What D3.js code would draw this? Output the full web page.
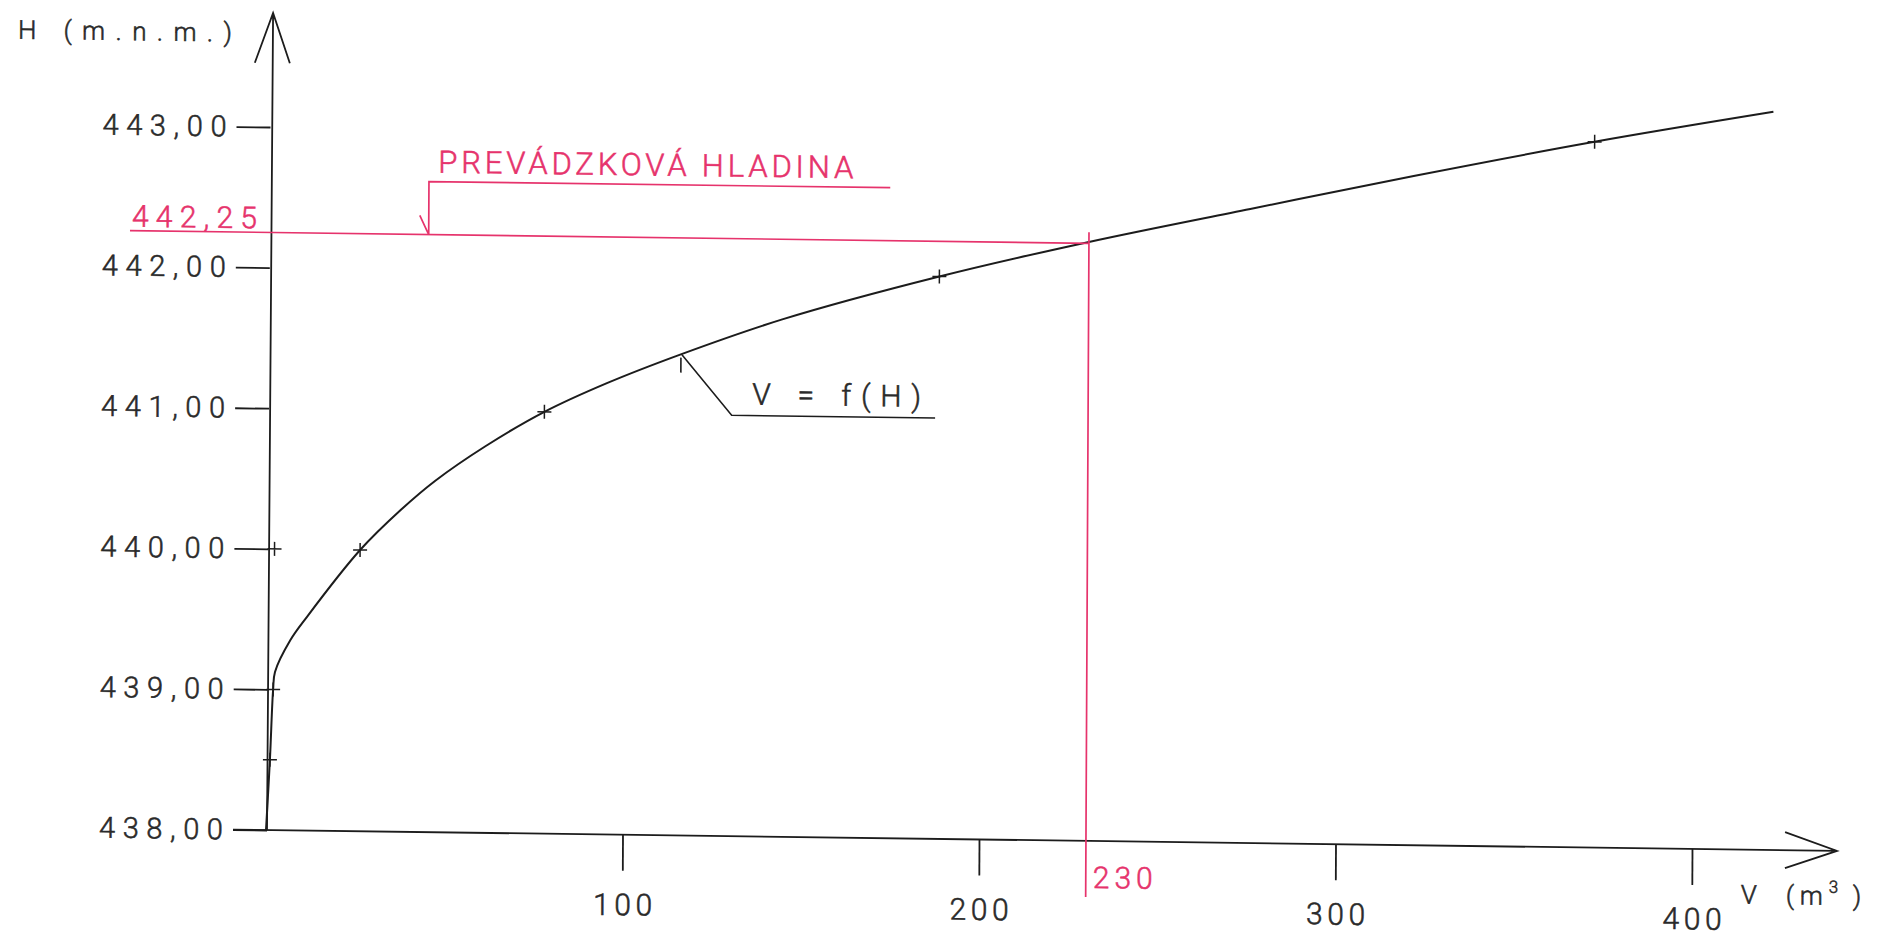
<!DOCTYPE html>
<html><head><meta charset="utf-8">
<script src="https://cdn.jsdelivr.net/npm/d3@7"></script>
<style>
html,body{margin:0;padding:0;background:#fff;}
svg{display:block;}
text{font-family:Roboto,'DejaVu Sans',sans-serif;font-weight:300;}
</style></head><body>
<svg id="chart" width="1887" height="936"></svg>
<script>
// ---- data ----
const yTickValues = [438, 439, 440, 441, 442, 443];
const yTickLabels = ["438,00", "439,00", "440,00", "441,00", "442,00", "443,00"];
const xTickValues = [100, 200, 300, 400];
const xTickLabels = ["100", "200", "300", "400"];
// curve V = f(H): volume (m3) and level (m n.m.)
const curveV = [0, 1.0, 1.8, 2.3, 6.5, 11.2, 26, 37.4, 47, 61, 77.5, 95, 115.5, 144.1, 188.1, 230, 275.2, 321, 371.7, 421.8];
const curveH = [438, 438.5, 439.0, 439.125, 439.35, 439.52, 440.0, 440.29, 440.5, 440.75, 441.0, 441.21, 441.42, 441.68, 442.0, 442.26, 442.51, 442.76, 443.02, 443.25];
// "+" markers of surveyed points
const markerV = [1.0, 1.8, 2, 26, 77.5, 188.1, 371.7];
const markerH = [438.5, 439, 440, 440, 441, 442, 443.02];
// operating level
const levelH = 442.25, levelV = 230;
const levelLabel = "442,25", volumeLabel = "230";
const levelTitle = "PREVÁDZKOVÁ HLADINA";
const curveTitle = "V = f(H)";
const curveTitleV = 116, curveTitleH = 441.42;
const levelLeaderV = 44.8;
const yTitle = "H (m.n.m.)";
const xTitleParts = ["V", "(", "m", "3", ")"];

// ---- drawing ----
const BLACK = "#1c1c1c", TEXT = "#2a2a2a", RED = "#e6336c";
const FONT = "Roboto, 'DejaVu Sans', sans-serif";
const svg = d3.select("#chart");
const x = d3.scaleLinear().domain([0, 400]).range([266, 1692]);
const y = d3.scaleLinear().domain([438, 443]).range([830, 127]);
const X0 = 267, Y0 = y(438);

// the scanned sheet is slightly skewed
const b = 0.0133, c = -0.005;
const g = svg.append("g")
  .attr("transform", `matrix(1,${b},${c},1,${-c * Y0},${-b * X0})`);

function styleText(sel, color, size) {
  sel.attr("fill", color).attr("stroke", color).attr("stroke-width", 0.55)
    .attr("font-size", size).attr("font-family", FONT).attr("font-weight", 300);
  return sel;
}

// Y axis
const yAxis = d3.axisLeft(y).tickValues(yTickValues)
  .tickFormat((d, i) => yTickLabels[i]).tickSize(34).tickSizeOuter(0).tickPadding(10);
const ya = g.append("g").attr("transform", `translate(${X0},0)`).call(yAxis);
ya.select(".domain").remove();
ya.selectAll(".tick line").attr("stroke", BLACK).attr("stroke-width", 1.8);
styleText(ya.selectAll(".tick text"), TEXT, 29)
  .attr("textLength", 124).attr("lengthAdjust", "spacing");

// X axis
const xAxis = d3.axisBottom(x).tickValues(xTickValues)
  .tickFormat((d, i) => xTickLabels[i]).tickSize(36).tickSizeOuter(0).tickPadding(23);
const xa = g.append("g").attr("transform", `translate(0,${Y0})`).call(xAxis);
xa.select(".domain").remove();
xa.selectAll(".tick line").attr("stroke", BLACK).attr("stroke-width", 1.8);
styleText(xa.selectAll(".tick text"), TEXT, 30)
  .attr("textLength", 59).attr("lengthAdjust", "spacing");

// axis lines with open arrows
g.append("path").attr("fill", "none").attr("stroke", BLACK).attr("stroke-width", 1.8)
  .attr("d", `M${X0},${Y0}L${X0 + 2},13M${X0 - 16},63L${X0 + 2},13L${X0 + 19},63`);
g.append("path").attr("fill", "none").attr("stroke", BLACK).attr("stroke-width", 1.8)
  .attr("d", `M233,${Y0}L1837,${Y0}M1785,${Y0 - 18}L1837,${Y0}L1785,${Y0 + 18}`);

// axis titles
styleText(g.append("text"), TEXT, 26).attr("x", 14).attr("y", 42)
  .attr("textLength", 214).attr("lengthAdjust", "spacing").text(yTitle);
const xt = styleText(g.append("text"), TEXT, 26).attr("y", 884);
const xtPos = [1741, 1786, 1800, 1829, 1853];
xTitleParts.forEach((s, i) => {
  const t = xt.append("tspan").attr("x", xtPos[i]).text(s);
  if (i === 3) t.attr("font-size", 17).attr("dy", -12);
  if (i === 4) t.attr("dy", 12);
});

// curve
const pts = curveV.map((v, i) => [x(v), y(curveH[i])]);
g.append("path").attr("fill", "none").attr("stroke", BLACK).attr("stroke-width", 2)
  .attr("d", d3.line().curve(d3.curveCatmullRom.alpha(0.5))(pts));

// markers
g.selectAll(".mk").data(markerV.map((v, i) => [x(v), y(markerH[i])])).join("path")
  .attr("class", "mk").attr("fill", "none").attr("stroke", BLACK).attr("stroke-width", 1.5)
  .attr("d", p => `M${p[0] - 7},${p[1]}h14M${p[0]},${p[1] - 7}v14`);

// operating level lines
const lx = x(levelV), ly = y(levelH);
g.append("path").attr("fill", "none").attr("stroke", RED).attr("stroke-width", 1.7)
  .attr("d", `M127,${ly}L${lx},${ly}M${lx},${ly - 11}L${lx},${Y0 + 56}`);
styleText(g.append("text"), RED, 30).attr("x", 129).attr("y", ly - 4)
  .attr("textLength", 125).attr("lengthAdjust", "spacing").text(levelLabel);
styleText(g.append("text"), RED, 30).attr("x", lx + 7).attr("y", Y0 + 47)
  .attr("textLength", 60).attr("lengthAdjust", "spacing").text(volumeLabel);

// level leader with check mark
const cx = x(levelLeaderV);
g.append("path").attr("fill", "none").attr("stroke", RED).attr("stroke-width", 1.7)
  .attr("d", `M${cx - 9},${ly - 19}L${cx},${ly}L${cx},${ly - 53}L887,${ly - 53}`);
styleText(g.append("text"), RED, 31).attr("x", 435).attr("y", ly - 62)
  .attr("textLength", 415).attr("lengthAdjust", "spacing").text(levelTitle);

// curve leader
const px = x(curveTitleV), py = y(curveTitleH);
g.append("path").attr("fill", "none").attr("stroke", BLACK).attr("stroke-width", 1.6)
  .attr("d", `M${px},${py}L${px + 50},${py + 60}L933,${py + 60}M${px - 1},${py + 3}L${px - 1},${py + 18}`);
styleText(g.append("text"), TEXT, 30).attr("x", 750).attr("y", py + 49)
  .attr("textLength", 169).attr("lengthAdjust", "spacing").text(curveTitle);
</script>
</body></html>
